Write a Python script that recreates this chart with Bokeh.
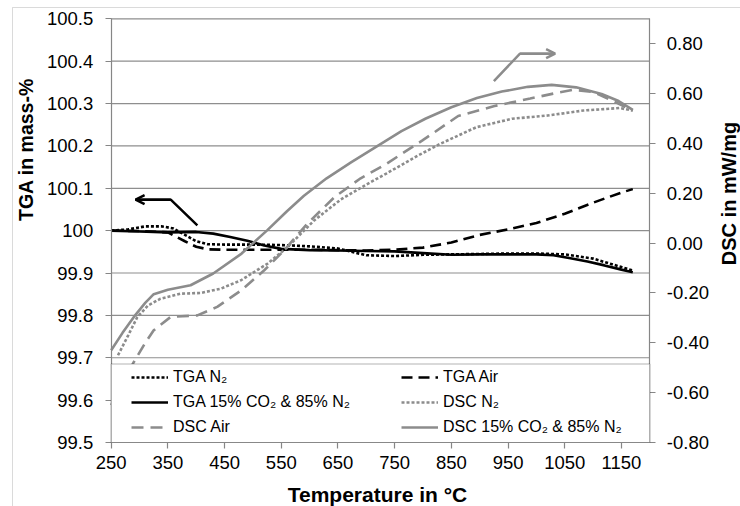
import math

from bokeh.plotting import figure
from bokeh.models import (LinearAxis, Range1d, FixedTicker, Legend, LegendItem,
                          BoxAnnotation, Arrow, OpenHead, Label)
from bokeh.embed import file_html
from bokeh.resources import INLINE

# ---- measured series -------------------------------------------------------
# TGA (mass-%) on the left axis
t_tga_n2 = [250, 280, 310, 340, 360, 380, 400, 420, 450, 500, 550, 600, 650, 680,
            700, 750, 800, 850, 900, 950, 1000, 1050, 1100, 1130, 1150, 1170]
tga_n2 = [100.0, 100.003, 100.01, 100.01, 100.005, 99.99, 99.975, 99.968, 99.967,
          99.967, 99.966, 99.963, 99.958, 99.948, 99.942, 99.94, 99.943, 99.944,
          99.945, 99.946, 99.946, 99.944, 99.934, 99.922, 99.914, 99.906]

t_tga_air = [250, 300, 350, 380, 400, 420, 450, 500, 550, 600, 650, 700, 750, 800,
             850, 900, 950, 1000, 1050, 1100, 1150, 1170]
tga_air = [100.0, 99.999, 99.996, 99.975, 99.962, 99.956, 99.955, 99.955, 99.955,
           99.955, 99.954, 99.953, 99.955, 99.96, 99.972, 99.99, 100.003, 100.018,
           100.04, 100.066, 100.09, 100.098]

t_tga_co2 = [250, 300, 350, 400, 430, 460, 490, 520, 550, 600, 650, 700, 750, 800,
             850, 900, 950, 1000, 1030, 1060, 1090, 1120, 1150, 1170]
tga_co2 = [100.0, 99.998, 99.996, 99.997, 99.993, 99.985, 99.976, 99.965, 99.957,
           99.954, 99.953, 99.952, 99.951, 99.947, 99.943, 99.944, 99.944, 99.944,
           99.942, 99.935, 99.927, 99.918, 99.908, 99.902]

# DSC (mW/mg) on the right axis
t_dsc_n2 = [262, 280, 296, 315, 337, 372, 408, 443, 479, 526, 561, 608, 655, 700,
            736, 790, 831, 894, 957, 1020, 1083, 1147, 1170]
dsc_n2 = [-0.45, -0.37, -0.297, -0.25, -0.223, -0.203, -0.2, -0.183, -0.149,
          -0.082, -0.016, 0.091, 0.175, 0.235, 0.28, 0.35, 0.399, 0.465, 0.499,
          0.512, 0.532, 0.542, 0.532]

t_dsc_air = [250, 270, 290, 310, 325, 355, 402, 437, 479, 520, 555, 596, 644, 690,
             736, 799, 862, 926, 989, 1030, 1065, 1100, 1140, 1170]
dsc_air = [-0.65, -0.56, -0.477, -0.40, -0.35, -0.296, -0.29, -0.256, -0.19, -0.109,
           -0.029, 0.078, 0.185, 0.26, 0.319, 0.412, 0.51, 0.55, 0.58, 0.60, 0.615,
           0.607, 0.565, 0.532]

t_dsc_co2 = [250, 270, 290, 310, 325, 350, 390, 430, 480, 525, 560, 590, 630, 673,
             720, 762, 805, 850, 895, 939, 985, 1027, 1070, 1115, 1145, 1170]
dsc_co2 = [-0.43, -0.36, -0.296, -0.24, -0.205, -0.187, -0.169, -0.122, -0.042,
           0.051, 0.128, 0.19, 0.26, 0.324, 0.39, 0.449, 0.50, 0.545, 0.582, 0.608,
           0.627, 0.635, 0.625, 0.598, 0.57, 0.535]

# ---- axes ------------------------------------------------------------------
x_ticks = [250, 350, 450, 550, 650, 750, 850, 950, 1050, 1150]
tga_ticks = [99.5, 99.6, 99.7, 99.8, 99.9, 100.0, 100.1, 100.2, 100.3, 100.4, 100.5]
tga_tick_labels = ["99.5", "99.6", "99.7", "99.8", "99.9", "100", "100.1", "100.2",
                   "100.3", "100.4", "100.5"]
dsc_ticks = [-0.8, -0.6, -0.4, -0.2, 0.0, 0.2, 0.4, 0.6, 0.8]
dsc_tick_labels = ["-0.80", "-0.60", "-0.40", "-0.20", "0.00", "0.20", "0.40",
                   "0.60", "0.80"]

T_MIN, T_MAX = 250, 1200
TGA_MIN, TGA_MAX = 99.5, 100.5
DSC_MIN, DSC_MAX = -0.8, 0.9

# callout arrows pointing each family of curves to its axis
tga_callout_t = [402, 355, 293]
tga_callout_v = [100.0125, 100.073, 100.073]
dsc_callout_t = [925, 971, 1033]
dsc_callout_v = [0.65, 0.76, 0.76]

# ---- page geometry ------------------------------------------------------------
# The plot frame covers the whole canvas; the axes sit at fixed data locations
# so that tick labels and titles stay inside the drawable area.
W, H = 740, 506
AREA_L, AREA_R, AREA_T, AREA_B = 110.7, 649.3, 18.3, 442.0   # plotting box in px

kx = (AREA_R - AREA_L) / (T_MAX - T_MIN)
ky_tga = (AREA_B - AREA_T) / (TGA_MAX - TGA_MIN)
ky_dsc = (AREA_B - AREA_T) / (DSC_MAX - DSC_MIN)

def px_to_t(px):
    return T_MIN + (px - AREA_L) / kx

def py_to_tga(py):
    return TGA_MAX - (py - AREA_T) / ky_tga

def py_to_dsc(py):
    return DSC_MAX - (py - AREA_T) / ky_dsc

FONT = "Liberation Sans"
BLACK = "#000000"
GREY = "#8c8c8c"
AXIS_GREY = "#868686"

p = figure(width=W, height=H, output_backend="svg", toolbar_location=None,
           x_range=Range1d(px_to_t(0), px_to_t(W)),
           y_range=Range1d(py_to_tga(H), py_to_tga(0)),
           min_border_left=0, min_border_right=0, min_border_top=0,
           min_border_bottom=0)
p.outline_line_color = None
p.background_fill_color = "white"
p.border_fill_color = "white"
p.extra_y_ranges = {"dsc": Range1d(py_to_dsc(H), py_to_dsc(0))}
p.xgrid.visible = False
p.ygrid.visible = False

# outer chart border (left and top edges visible)
p.add_layout(BoxAnnotation(left=px_to_t(12), right=px_to_t(W + 20),
                           top=py_to_tga(7), bottom=py_to_tga(H + 20),
                           fill_alpha=0, line_color=AXIS_GREY, line_width=1,
                           level="underlay"))

# horizontal gridlines at the TGA ticks, across the plotting box only
p.segment(x0=T_MIN, x1=T_MAX, y0=tga_ticks, y1=tga_ticks,
          line_color="#8e8e8e", line_width=1.2, level="underlay")

def style_axis(ax, ticks, labels=None):
    ax.ticker = FixedTicker(ticks=ticks)
    if labels is not None:
        ax.major_label_overrides = dict(zip(ticks, labels))
    ax.axis_line_color = AXIS_GREY
    ax.axis_line_width = 1.2
    ax.major_tick_line_color = AXIS_GREY
    ax.major_tick_line_width = 1.2
    ax.major_tick_out = 6
    ax.major_tick_in = 0
    ax.minor_tick_line_color = None
    ax.major_label_text_font = FONT
    ax.major_label_text_font_size = "18.5px"
    ax.major_label_text_color = BLACK

xa = p.xaxis[0]
style_axis(xa, x_ticks)
xa.fixed_location = TGA_MIN
xa.bounds = (T_MIN, T_MAX)
xa.major_label_standoff = 7

ya = p.yaxis[0]
style_axis(ya, tga_ticks, tga_tick_labels)
ya.fixed_location = T_MIN
ya.bounds = (TGA_MIN, TGA_MAX)
ya.major_label_standoff = 12

ra = LinearAxis(y_range_name="dsc", fixed_location=T_MAX, bounds=(DSC_MIN, DSC_MAX))
style_axis(ra, dsc_ticks, dsc_tick_labels)
ra.major_label_standoff = 11
p.add_layout(ra, "right")

# axis titles (screen px from the canvas bottom-left)
def axis_title(text, x, y, size, angle=0.0):
    p.add_layout(Label(text=text, x=x, y=y, x_units="screen", y_units="screen",
                       angle=angle, text_align="center", text_baseline="middle",
                       text_font=FONT, text_font_style="bold",
                       text_font_size=size, text_color=BLACK))

axis_title("Temperature in °C", 377, H - 494, "21px")
axis_title("TGA in mass-%", 25, H - 149, "19.5px", math.pi / 2)
axis_title("DSC in mW/mg", 728.5, H - 193, "20px", math.pi / 2)

# ---- curves ----------------------------------------------------------------
LW = 2.6
r_tga_n2 = p.line(t_tga_n2, tga_n2, line_color=BLACK, line_width=LW, line_dash="3 2")
r_tga_air = p.line(t_tga_air, tga_air, line_color=BLACK, line_width=LW, line_dash="11 6")
r_tga_co2 = p.line(t_tga_co2, tga_co2, line_color=BLACK, line_width=LW)
r_dsc_n2 = p.line(t_dsc_n2, dsc_n2, line_color=GREY, line_width=LW, line_dash="3 2",
                  y_range_name="dsc")
r_dsc_air = p.line(t_dsc_air, dsc_air, line_color=GREY, line_width=LW, line_dash="12 7",
                   y_range_name="dsc")
r_dsc_co2 = p.line(t_dsc_co2, dsc_co2, line_color=GREY, line_width=LW, y_range_name="dsc")

# ---- callout arrows ----------------------------------------------------------
p.line(tga_callout_t, tga_callout_v, line_color=BLACK, line_width=2.5)
p.add_layout(Arrow(end=OpenHead(size=9, line_color=BLACK, line_width=2.5),
                   x_start=tga_callout_t[1], y_start=tga_callout_v[1],
                   x_end=tga_callout_t[2], y_end=tga_callout_v[2],
                   line_color=BLACK, line_width=2.5))
p.line(dsc_callout_t, dsc_callout_v, line_color=GREY, line_width=2.5, y_range_name="dsc")
p.add_layout(Arrow(end=OpenHead(size=9, line_color=GREY, line_width=2.5),
                   x_start=dsc_callout_t[1], y_start=dsc_callout_v[1],
                   x_end=dsc_callout_t[2], y_end=dsc_callout_v[2],
                   line_color=GREY, line_width=2.5, y_range_name="dsc"))

# ---- legend: white box across the bottom of the plotting box, two columns ----
p.add_layout(BoxAnnotation(left=T_MIN, right=T_MAX, bottom=TGA_MIN,
                           top=py_to_tga(363.5), fill_color="white", fill_alpha=1.0,
                           line_color=BLACK, line_width=1.2))

def make_legend(items, loc):
    return Legend(items=items, location=loc, orientation="vertical",
                  glyph_width=37, glyph_height=20, label_height=20,
                  label_standoff=5, spacing=5, padding=0, margin=0,
                  background_fill_alpha=0, border_line_color=None,
                  label_text_font=FONT, label_text_font_size="16px",
                  label_text_color=BLACK)

p.add_layout(make_legend([
    LegendItem(label="TGA N₂", renderers=[r_tga_n2]),
    LegendItem(label="TGA 15% CO₂ & 85% N₂", renderers=[r_tga_co2]),
    LegendItem(label="DSC Air", renderers=[r_dsc_air]),
], (131, H - 437)))
p.add_layout(make_legend([
    LegendItem(label="TGA Air", renderers=[r_tga_air]),
    LegendItem(label="DSC N₂", renderers=[r_dsc_n2]),
    LegendItem(label="DSC 15% CO₂ & 85% N₂", renderers=[r_dsc_co2]),
], (401, H - 437)))

open("out.html", "w").write(file_html(p, INLINE))
